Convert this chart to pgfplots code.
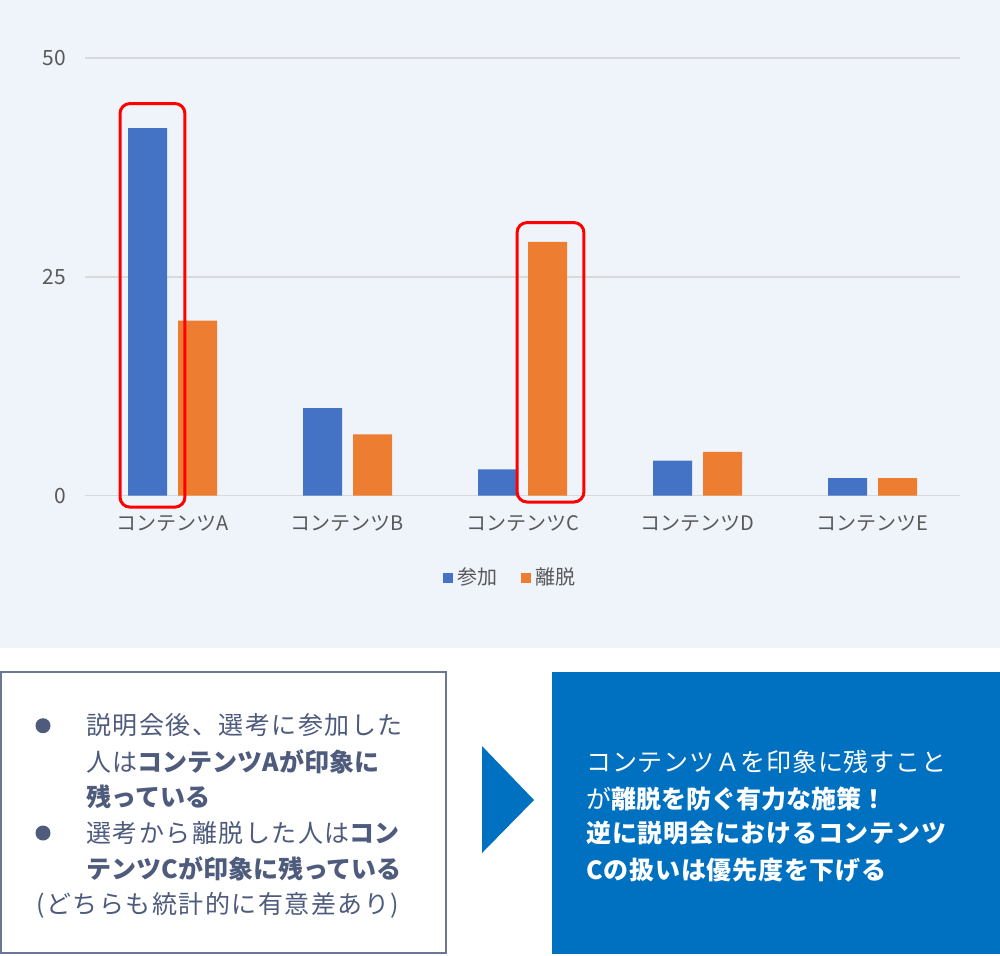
\documentclass[border=0pt]{standalone}
\usepackage{fontspec}
\setmainfont{Noto Sans CJK JP}
\newfontfamily\jpsp[LetterSpace=6]{Noto Sans CJK JP}
\newfontfamily\jpsq[LetterSpace=3]{Noto Sans CJK JP}
\newfontfamily\jpn{Noto Sans CJK JP}
\newcommand{\B}[1]{{\jpn\bfseries #1}}
\newcommand{\Bs}[1]{{\jpsq\bfseries #1}}
\usepackage{pgfplots}
\pgfplotsset{compat=1.18}
\definecolor{bg}{HTML}{EFF4FA}
\definecolor{cblue}{HTML}{4472C4}
\definecolor{corange}{HTML}{ED7D31}
\definecolor{gridc}{HTML}{D9D9D9}
\definecolor{txtg}{HTML}{595959}
\definecolor{slate}{HTML}{4E5B7C}
\definecolor{boxline}{HTML}{6A7894}
\definecolor{boxblue}{HTML}{0070C0}
\begin{document}
\begin{tikzpicture}
\begin{scope}[x=0.5pt,y=-0.5pt]
\path (0,0) rectangle (1000,955);
\fill[bg] (0,0) rectangle (1000,648);
\end{scope}
\begin{axis}[
 at={(42.5pt,-247.85pt)}, anchor=south west,
 scale only axis, width=437.5pt, height=218.85pt,
 ybar=5.5pt, bar width=19.5pt,
 xmin=-0.5, xmax=4.5, ymin=0, ymax=50,
 xtick={0,1,2,3,4},
 xticklabels={コンテンツA,コンテンツB,コンテンツC,コンテンツD,コンテンツE},
 ytick={0,25,50},
 axis line style={draw=none},
 major tick length=0pt,
 ymajorgrids, grid style={gridc, line width=0.75pt},
 clip=false,
 tick label style={font=\fontsize{10}{12}\selectfont, text=txtg},
 yticklabel style={font=\fontsize{10.5}{12}\selectfont, xshift=-6pt},
 xticklabel style={yshift=-6.5pt},
 /pgf/number format/assume math mode=true,
 legend style={at={(0.487,-0.188)}, anchor=center, draw=none, fill=none,
   legend columns=2, font=\fontsize{10}{12}\selectfont, text=txtg,
   /tikz/every even column/.append style={column sep=10pt}},
 legend image code/.code={\draw[#1, draw=none] (0pt,-2.5pt) rectangle (5pt,2.5pt);},
]
\addplot[fill=cblue, draw=none] coordinates {(0,42) (1,10) (2,3) (3,4) (4,2)};
\addplot[fill=corange, draw=none] coordinates {(0,20) (1,7) (2,29) (3,5) (4,2)};
\legend{参加,離脱}
\draw[red, line width=1.5pt, rounded corners=5pt] (axis cs:-0.3,-1.3) rectangle (axis cs:0.071,44.8);
\draw[red, line width=1.5pt, rounded corners=5pt] (axis cs:1.969,-0.72) rectangle (axis cs:2.351,31.2);
\end{axis}
\begin{scope}[x=0.5pt,y=-0.5pt]
\draw[boxline, line width=1pt, fill=white] (1,672) rectangle (446,953);
\fill[slate] (43,725.7) circle[radius=3.75pt];
\fill[slate] (43,833) circle[radius=3.75pt];
\begin{scope}[every node/.style={anchor=west, inner sep=0pt, text=slate, font=\jpsp\fontsize{12.5}{14}\selectfont}]
\node at (86,725) {説明会後、選考に参加した};
\node at (86,762) {人は\B{コンテンツAが印象に}};
\node at (86,797) {\B{残っている}};
\node at (86,833) {選考から離脱した人は\B{コン}};
\node at (86,869) {\B{テンツCが印象に残っている}};
\node at (36,905) {(どちらも統計的に有意差あり)};
\end{scope}
\fill[boxblue] (482,746) -- (534,800) -- (482,853) -- cycle;
\fill[boxblue] (552,672) rectangle (1000,954);
\begin{scope}[every node/.style={anchor=west, inner sep=0pt, text=white, font=\jpsq\fontsize{12.5}{14}\selectfont}]
\node at (586,762) {コンテンツＡを印象に残すこと};
\node at (586,799) {が\B{離脱を防ぐ有力な施策！}};
\node at (586,833) {\Bs{逆に説明会におけるコンテンツ}};
\node at (586,870) {\Bs{Cの扱いは優先度を下げる}};
\end{scope}
\end{scope}
\end{tikzpicture}
\end{document}
